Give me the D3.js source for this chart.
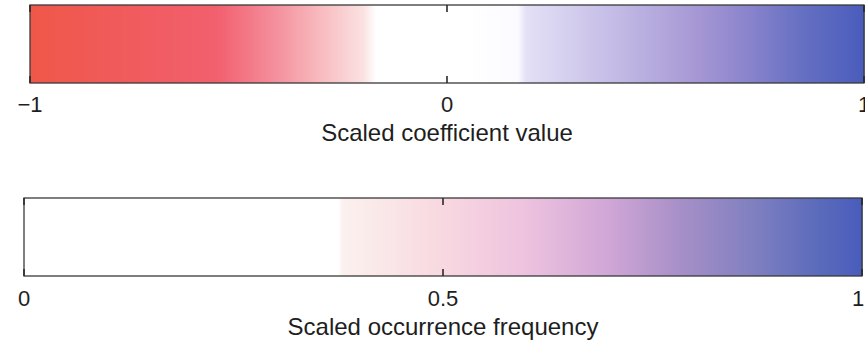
<!DOCTYPE html>
<html>
<head>
<meta charset="utf-8">
<script src="https://cdn.jsdelivr.net/npm/d3@7"></script>
<style>
  html, body { margin: 0; padding: 0; background: #fff; }
  svg { display: block; }
  text { font-family: "Liberation Sans", Arial, Helvetica, sans-serif; fill: #1e1e1e; }
</style>
</head>
<body>
<svg id="chart" width="865" height="341"></svg>
<script>
// Colour bar 1: scaled coefficient value (diverging red - white - blue)
const coefStops  = [-1, -0.8, -0.55, -0.42, -0.3, -0.2, -0.17, 0.05, 0.17, 0.19, 0.4, 0.6, 0.72, 0.85, 1];
const coefColors = ["#ef5848", "#f05a5a", "#f2606e", "#f48c9a", "#f8bcc0", "#fbe2e2",
                    "#ffffff", "#ffffff", "#fbfaff", "#e4e0f6", "#c4bce6", "#a697d4",
                    "#8a84cc", "#6670c2", "#4a5cbc"];
const coefTicks  = [-1, 0, 1];
const coefTitle  = "Scaled coefficient value";

// Colour bar 2: scaled occurrence frequency (white - pink - purple - blue)
const freqStops  = [0, 0.375, 0.38, 0.5, 0.6, 0.7, 0.78, 0.87, 0.95, 1];
const freqColors = ["#ffffff", "#ffffff", "#fbf1ee", "#f8d8e0", "#edc2df", "#cfa6d6",
                    "#a890c8", "#8080c0", "#5a6abb", "#4a5cbc"];
const freqTicks  = [0, 0.5, 1];
const freqTitle  = "Scaled occurrence frequency";

const svg = d3.select("#chart");
const W = +svg.attr("width");

function colorbar(cfg) {
  const x = d3.scaleLinear().domain(cfg.domain).range([cfg.x0, cfg.x1]);
  const color = d3.scaleLinear().domain(cfg.stops).range(cfg.colors)
                  .interpolate(d3.interpolateRgb).clamp(true);
  const g = svg.append("g");
  const h = cfg.y1 - cfg.y0;

  // one thin cell per screen pixel across the bar
  const n = Math.round(cfg.x1 - cfg.x0);
  const step = (cfg.domain[1] - cfg.domain[0]) / n;
  const cells = d3.range(n).map(i => cfg.domain[0] + (i + 0.5) * step);
  g.selectAll("rect.cell").data(cells).join("rect")
    .attr("class", "cell")
    .attr("x", d => x(d - step / 2))
    .attr("y", cfg.y0)
    .attr("width", d => x(d + step / 2) - x(d - step / 2) + 0.6)
    .attr("height", h)
    .attr("fill", d => color(d));

  // frame
  g.append("rect")
    .attr("x", cfg.x0).attr("y", cfg.y0)
    .attr("width", cfg.x1 - cfg.x0).attr("height", h)
    .attr("fill", "none").attr("stroke", "#3a3a3a").attr("stroke-width", 1.3);

  // inward ticks on top and bottom edges
  const ticks = g.append("g");
  ticks.selectAll("line.bt").data(cfg.ticks).join("line")
    .attr("x1", d => x(d)).attr("x2", d => x(d))
    .attr("y1", cfg.y1).attr("y2", cfg.y1 - 7)
    .attr("stroke", "#2a2a2a").attr("stroke-width", 1.6);
  ticks.selectAll("line.tp").data(cfg.ticks).join("line")
    .attr("x1", d => x(d)).attr("x2", d => x(d))
    .attr("y1", cfg.y0).attr("y2", cfg.y0 + 7)
    .attr("stroke", "#2a2a2a").attr("stroke-width", 1.6);

  // tick labels
  g.selectAll("text.tl").data(cfg.ticks).join("text")
    .attr("class", "tl")
    .attr("x", d => Math.min(x(d), W - cfg.labelInset))
    .attr("y", cfg.labelY)
    .attr("text-anchor", "middle")
    .style("font-size", "22px")
    .text(d => d3.format("")(d).replace("-", "\u2212"));

  // axis title
  g.append("text")
    .attr("x", (cfg.x0 + cfg.x1) / 2)
    .attr("y", cfg.titleY)
    .attr("text-anchor", "middle")
    .style("font-size", "24px")
    .text(cfg.title);
}

colorbar({
  domain: [-1, 1], stops: coefStops, colors: coefColors, ticks: coefTicks, title: coefTitle,
  x0: 30, x1: 864, y0: 5, y1: 83, labelY: 112, titleY: 141, labelInset: 1
});

colorbar({
  domain: [0, 1], stops: freqStops, colors: freqColors, ticks: freqTicks, title: freqTitle,
  x0: 24, x1: 862, y0: 198, y1: 276, labelY: 306, titleY: 335, labelInset: 7
});
</script>
</body>
</html>
